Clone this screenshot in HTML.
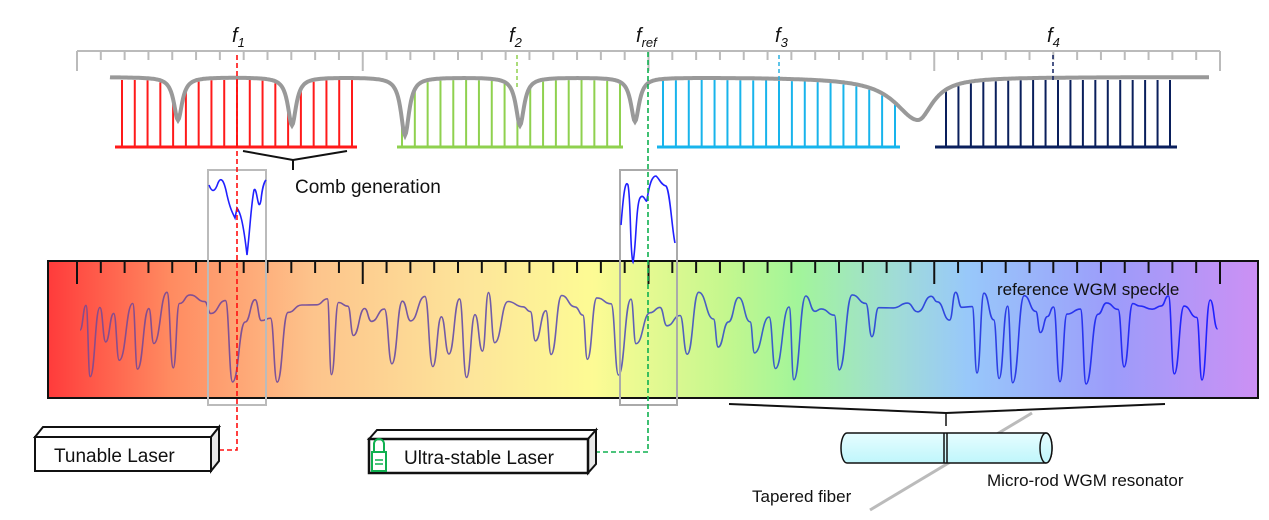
<!DOCTYPE html>
<html><head><meta charset="utf-8">
<style>
html,body{margin:0;padding:0;background:#fff;}
svg{display:block;}
text{font-family:"Liberation Sans",sans-serif;}
</style></head>
<body>
<svg id="s" width="1269" height="520" viewBox="0 0 1269 520" xmlns="http://www.w3.org/2000/svg">
<defs>
<linearGradient id="rb" x1="0" x2="1" y1="0" y2="0">
<stop offset="0" stop-color="#ff3b3b"/>
<stop offset="0.1" stop-color="#ff8a60"/>
<stop offset="0.22" stop-color="#fdc48c"/>
<stop offset="0.35" stop-color="#fde59a"/>
<stop offset="0.45" stop-color="#fdfb94"/>
<stop offset="0.56" stop-color="#c4f78e"/>
<stop offset="0.62" stop-color="#a2f59a"/>
<stop offset="0.7" stop-color="#a0dcd6"/>
<stop offset="0.76" stop-color="#98c8fa"/>
<stop offset="0.88" stop-color="#9c9cfa"/>
<stop offset="1" stop-color="#cc90f4"/>
</linearGradient>
<linearGradient id="sp" gradientUnits="userSpaceOnUse" x1="80" x2="1217" y1="0" y2="0">
<stop offset="0" stop-color="#8a4a8a"/>
<stop offset="0.45" stop-color="#6a60b0"/>
<stop offset="0.6" stop-color="#3a60c8"/>
<stop offset="1" stop-color="#2020ff"/>
</linearGradient>
<linearGradient id="cyl" x1="0" x2="0" y1="0" y2="1">
<stop offset="0" stop-color="#e6fdff"/><stop offset="1" stop-color="#bff6fb"/>
</linearGradient>
</defs>
<g id="ruler" stroke="#bbb" stroke-width="2" fill="none"><line x1="77" y1="51" x2="1220" y2="51"/></g>
<g id="combs"></g>
<path id="env" fill="none" stroke="#999" stroke-width="4"/>
<g font-style="italic" font-size="20" fill="#111">
<text x="232" y="42">f<tspan font-size="13" dy="5">1</tspan></text>
<text x="509" y="42">f<tspan font-size="13" dy="5">2</tspan></text>
<text x="636" y="42">f<tspan font-size="13" dy="5">ref</tspan></text>
<text x="775" y="42">f<tspan font-size="13" dy="5">3</tspan></text>
<text x="1047" y="42">f<tspan font-size="13" dy="5">4</tspan></text>
</g>
<line x1="517" y1="55" x2="517" y2="88" stroke="#8fd14f" stroke-width="1.5" stroke-dasharray="4,3"/>
<line x1="779" y1="55" x2="779" y2="80" stroke="#2ab0e0" stroke-width="1.5" stroke-dasharray="4,3"/>
<line x1="1053" y1="55" x2="1053" y2="80" stroke="#102060" stroke-width="1.5" stroke-dasharray="4,3"/>
<polyline points="243,151 293,160 347,151" fill="none" stroke="#111" stroke-width="2"/>
<line x1="293" y1="160" x2="293" y2="170" stroke="#111" stroke-width="2"/>
<text x="295" y="193" font-size="19" fill="#111">Comb generation</text>
<rect x="48" y="261" width="1210" height="137" fill="url(#rb)" stroke="#111" stroke-width="2"/>
<g id="sticks" stroke="#111" stroke-width="2"></g>
<text x="997" y="295" font-size="17" fill="#111">reference WGM speckle</text>
<path id="spk" fill="none" stroke="url(#sp)" stroke-width="1.6"/>
<rect x="208" y="170" width="58" height="235" fill="none" stroke="#bbb" stroke-width="2"/>
<rect x="620" y="170" width="57" height="235" fill="none" stroke="#aaa" stroke-width="2"/>
<path d="M209,185 C212,193 215,192 218,183 C221,176 224,180 227,195 C230,208 232,212 235,218 L237,208 C240,212 243,220 247,255 C250,230 251,205 254,190 C257,185 258,216 261,200 C262,190 264,182 266,180" fill="none" stroke="#2020ff" stroke-width="1.6"/>
<path d="M621,225 C623,200 625,178 628,185 C631,200 630,255 633,262 C636,250 636,205 640,198 C644,192 646,205 647,200 C650,180 653,176 656,176 C659,178 661,185 666,186 C670,190 672,230 675,243" fill="none" stroke="#2020ff" stroke-width="1.6"/>
<polyline points="237,55 237,450 218,450" fill="none" stroke="#ff1010" stroke-width="1.6" stroke-dasharray="5,3"/>
<polyline points="648,52 648,452 597,452" fill="none" stroke="#10b050" stroke-width="1.6" stroke-dasharray="5,3"/>
<polyline points="729,404 946,413 1165,404" fill="none" stroke="#111" stroke-width="2"/>
<line x1="946" y1="413" x2="946" y2="426" stroke="#111" stroke-width="1.5"/>
<polygon points="35,437 43,427 219,427 211,437" fill="#fff" stroke="#111" stroke-width="2"/>
<polygon points="211,437 219,427 219,461 211,471" fill="#e8e8e8" stroke="#111" stroke-width="2"/>
<rect x="35" y="437" width="176" height="34" fill="#fff" stroke="#111" stroke-width="2"/>
<text x="54" y="462" font-size="19" fill="#111">Tunable Laser</text>
<polygon points="369,439 377,430 596,430 588,439" fill="#fff" stroke="#111" stroke-width="2"/>
<polygon points="588,439 596,430 596,464 588,473" fill="#e8e8e8" stroke="#111" stroke-width="2"/>
<rect x="369" y="439" width="219" height="34" fill="#fff" stroke="#111" stroke-width="2.5"/>
<path d="M374,452 L374,444 A5,5 0 0 1 384,444 L384,452" fill="none" stroke="#10b050" stroke-width="2"/>
<rect x="372" y="452" width="14" height="19" fill="#fff" stroke="#10b050" stroke-width="2"/>
<line x1="375" y1="460" x2="383" y2="460" stroke="#10b050" stroke-width="1.5"/>
<line x1="375" y1="464" x2="383" y2="464" stroke="#10b050" stroke-width="1.5"/>
<text x="404" y="464" font-size="19" fill="#111">Ultra-stable Laser</text>
<line x1="870" y1="510" x2="1032" y2="413" stroke="#bbb" stroke-width="3"/>
<path d="M847,433 L1046,433 A6,15 0 0 1 1046,463 L847,463 A6,15 0 0 1 847,433 Z" fill="url(#cyl)" stroke="#111" stroke-width="1.5"/>
<ellipse cx="1046" cy="448" rx="6" ry="15" fill="url(#cyl)" stroke="#111" stroke-width="1.5"/>
<line x1="944" y1="433" x2="944" y2="463" stroke="#111" stroke-width="1.5"/>
<line x1="947" y1="433" x2="947" y2="463" stroke="#111" stroke-width="1.5"/>
<text x="752" y="502" font-size="17" fill="#111">Tapered fiber</text>
<text x="987" y="486" font-size="17" fill="#111">Micro-rod WGM resonator</text>
</svg>
<script>
var NS="http://www.w3.org/2000/svg";
function el(p,t,a){var e=document.createElementNS(NS,t);for(var k in a)e.setAttribute(k,a[k]);p.appendChild(e);return e;}
var r=document.getElementById('ruler'),st=document.getElementById('sticks');
for(var i=0;i<=48;i++){var x=77+i*1143/48;var maj=i%12==0;
el(r,'line',{x1:x,y1:51,x2:x,y2:maj?71:60});
if(x>50&&x<1256)el(st,'line',{x1:x,y1:262,x2:x,y2:maj?284:273});}
function env(x){var y=77;
[[178,43,5],[292,48,5],[405,58,5],[520,48,5],[635,44,5]].forEach(function(d){var u=(x-d[0])/d[2];y+=d[1]/(1+u*u);});
var u=(x-918)/(x<918?28:18);y+=43/(1+u*u);return y;}
var d='';for(var x=110;x<=1209;x+=1){d+=(x==110?'M':'L')+x+','+env(x).toFixed(1);}
document.getElementById('env').setAttribute('d',d);
var c=document.getElementById('combs');
[[115,357,122,352,'#ff1a1a'],[397,623,402,620,'#8fd14f'],[657,900,663,895,'#18b4ec'],[935,1177,946,1170,'#0a1f5c']].forEach(function(g){
el(c,'line',{x1:g[0],y1:147,x2:g[1],y2:147,stroke:g[4],'stroke-width':3});
var n=Math.round((g[3]-g[2])/12.7);for(var i=0;i<=n;i++){var x=g[2]+i*(g[3]-g[2])/n;
el(c,'line',{x1:x,y1:Math.max(env(x)+2,80),x2:x,y2:147,stroke:g[4],'stroke-width':2});}});
var seed=11;function rnd(){seed=(seed*16807)%2147483647;return seed/2147483647;}
var vals=[],x=80;
vals.push([80,330]);
while(x<1217){x+=6+rnd()*9;vals.push([x,292+rnd()*30]);if(rnd()<0.5){x+=4+rnd()*4;vals.push([x,325+rnd()*60]);}}
var s='M'+vals[0][0]+','+vals[0][1];for(var i=1;i<vals.length;i++){var p=vals[i-1],q=vals[i];var mx=(p[0]+q[0])/2;
s+=' C'+mx.toFixed(1)+','+p[1].toFixed(1)+' '+mx.toFixed(1)+','+q[1].toFixed(1)+' '+q[0].toFixed(1)+','+q[1].toFixed(1);}
document.getElementById('spk').setAttribute('d',s);
</script>
</body></html>
